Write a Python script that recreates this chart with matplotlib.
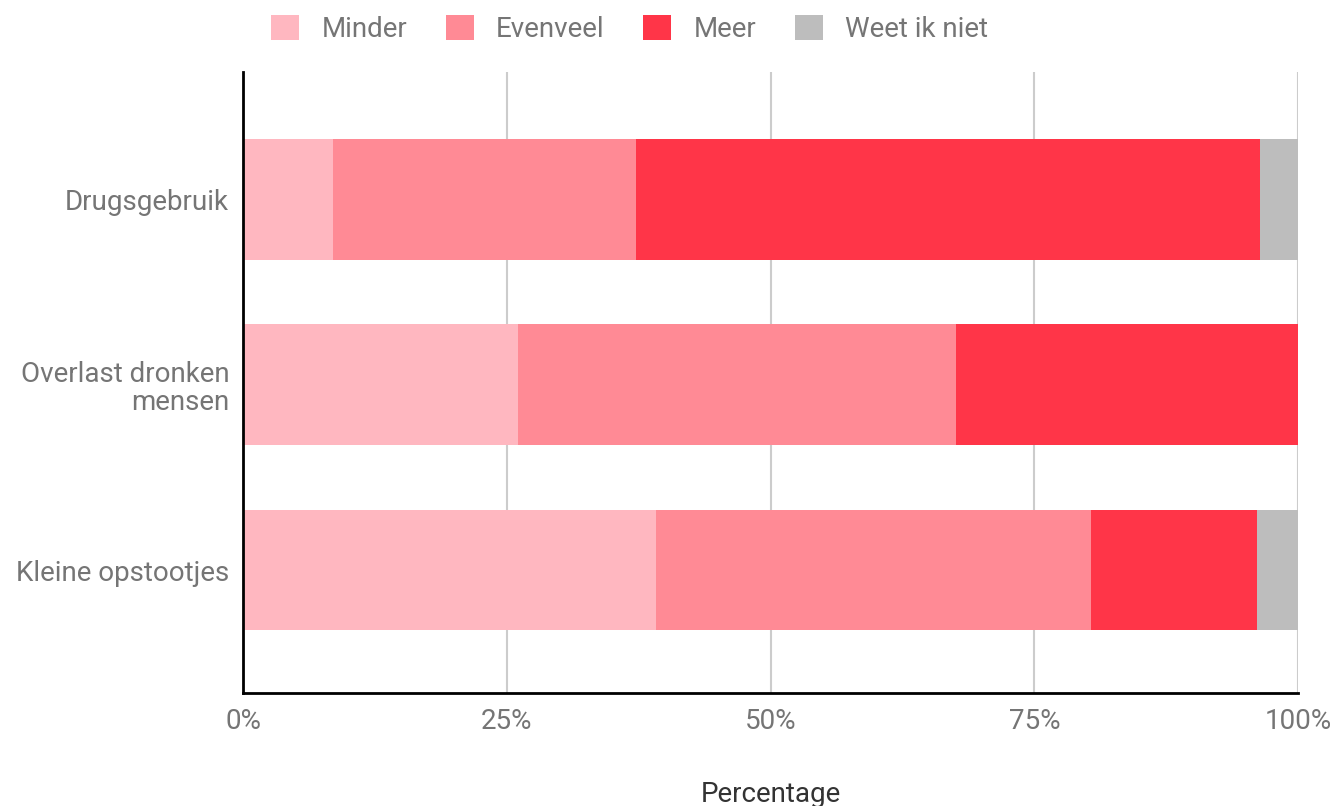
import numpy as np
import matplotlib.pyplot as plt

categorieen = ["Drugsgebruik", "Overlast dronken\nmensen", "Kleine opstootjes"]
reeksen = ["Minder", "Evenveel", "Meer", "Weet ik niet"]
minder = [8.5, 26.1, 39.1]
evenveel = [28.7, 41.5, 41.3]
meer = [59.2, 32.4, 15.7]
weet_niet = [3.6, 0.0, 3.9]
x_ticks = [0, 25, 50, 75, 100]
x_labels = ["0%", "25%", "50%", "75%", "100%"]

kleuren = ["#FFB7C0", "#FF8A95", "#FF3548", "#BDBDBD"]
grijs = "#757575"

plt.rcParams['font.family'] = ['Roboto', 'DejaVu Sans']

fig = plt.figure(figsize=(13.34, 8.06), dpi=100)
ax = fig.add_axes([0.1822, 0.1402, 0.7909, 0.7705])

y = np.arange(len(categorieen))
links = np.zeros(len(categorieen))
for naam, waarden, kleur in zip(reeksen, [minder, evenveel, meer, weet_niet], kleuren):
    ax.barh(y, waarden, left=links, height=0.652, color=kleur, label=naam, zorder=3)
    links += np.array(waarden)

ax.set_xlim(0, 100)
ax.set_ylim(2.663, -0.685)
ax.set_xticks(x_ticks)
ax.set_xticklabels(x_labels)
ax.set_yticks(y)
ax.set_yticklabels(categorieen, linespacing=1.05)
ax.tick_params(axis='both', length=0, labelsize=20, labelcolor=grijs)
ax.tick_params(axis='x', pad=11)
ax.tick_params(axis='y', pad=10)
ax.grid(axis='x', color='#CCCCCC', linewidth=1.5, zorder=0)

for kant in ['top', 'right']:
    ax.spines[kant].set_visible(False)
for kant in ['left', 'bottom']:
    ax.spines[kant].set_color('black')
    ax.spines[kant].set_linewidth(2)
    ax.spines[kant].set_zorder(4)

ax.set_xlabel("Percentage", fontsize=20, color='#333333', labelpad=33)

fig.legend(loc='upper center', bbox_to_anchor=(0.472, 1.012), ncol=4, frameon=False,
           fontsize=20, labelcolor=grijs, handlelength=1.0, handleheight=1.0,
           columnspacing=1.4, handletextpad=0.8)

fig.savefig("out.png", dpi=100)
